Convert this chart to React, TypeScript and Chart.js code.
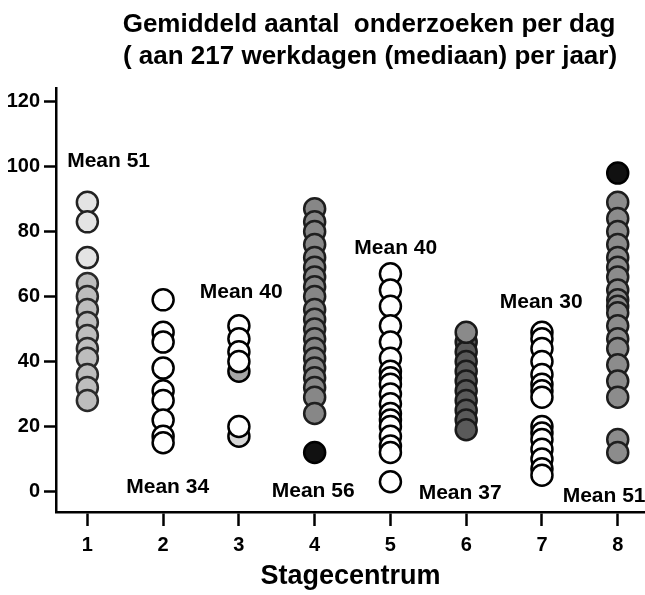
import React, { useEffect, useRef } from "react";
import { Chart, registerables } from "chart.js";

Chart.register(...registerables);

const titleLines = ["Gemiddeld aantal  onderzoeken per dag", "( aan 217 werkdagen (mediaan) per jaar)"];
const xTitle = "Stagecentrum";
const xTicks = [1, 2, 3, 4, 5, 6, 7, 8];
const yTicks = [0, 20, 40, 60, 80, 100, 120];

// values per Stagecentrum (gemiddeld aantal onderzoeken per dag)
const stage1Light = [89, 83, 72];
const stage1 = [64, 60, 56, 52, 48, 44, 41, 36, 32, 28];
const stage2 = [59, 49, 46, 38, 31, 28, 22, 17, 15];
const stage3 = [51, 47, 43, 40, 20];
const stage3Gray = [37];
const stage3Light = [17];
const stage4 = [87, 83, 80, 76, 72, 69, 66, 63, 60, 56, 53, 50, 47, 44, 41, 38, 35, 32, 29, 24];
const stage4Black = [12];
const stage5 = [67, 62, 57, 51, 46, 41, 37, 35, 33, 30, 27, 24, 22, 20, 17, 14, 12, 3];
const stage6Light = [49];
const stage6 = [46, 43, 40, 37, 34, 31, 28, 25, 22, 19];
const stage7 = [49, 47, 44, 40, 36, 33, 31, 29, 20, 18, 16, 13, 10, 7, 5];
const stage8 = [89, 84, 80, 76, 72, 69, 66, 62, 59, 57, 55, 51, 47, 44, 39, 34, 29, 16, 12];
const stage8Black = [98];

// mean annotations
const meanLabels = ["Mean 51", "Mean 34", "Mean 40", "Mean 56", "Mean 40", "Mean 37", "Mean 30", "Mean 51"];
const meanAtX = [1.28, 2.06, 3.03, 3.98, 5.07, 5.92, 6.99, 7.82];
const meanAtY = [101.7, 1.3, 61.2, 0.2, 74.9, -0.4, 58.3, -1.4];

const FONT = '"Liberation Sans", Arial, Helvetica, sans-serif';

function pts(stage: number, values: number[]) {
  return values.map((v) => ({ x: stage, y: v }));
}

function ds(stage: number, values: number[], fill: string, border: string) {
  return {
    label: "Stage " + stage,
    data: pts(stage, values),
    backgroundColor: fill,
    borderColor: border,
    borderWidth: 2.5,
    pointRadius: 10.5,
    pointHoverRadius: 10.5,
    clip: false as any,
  };
}

const annotationsPlugin = {
  id: "annotationsPlugin",
  afterDatasetsDraw(chart: any) {
    const { ctx, scales } = chart;
    const xs = scales.x;
    const ys = scales.y;
    ctx.save();
    ctx.fillStyle = "#000";
    ctx.textAlign = "center";
    ctx.textBaseline = "middle";
    ctx.font = "bold 21px " + FONT;
    meanLabels.forEach((t, i) => {
      ctx.fillText(t, xs.getPixelForValue(meanAtX[i]), ys.getPixelForValue(meanAtY[i]));
    });
    ctx.textBaseline = "alphabetic";
    ctx.font = "bold 26px " + FONT;
    ctx.fillText(titleLines[0], 369, 32);
    ctx.fillText(titleLines[1], 370, 63.5);
    ctx.restore();
  },
};

export default function App() {
  const ref = useRef<HTMLCanvasElement>(null);
  useEffect(() => {
    if (!ref.current) return;
    const chart = new Chart(ref.current, {
      type: "scatter",
      data: {
        datasets: [
          ds(1, stage1Light, "#e4e4e4", "#222"),
          ds(1, stage1, "#bdbdbd", "#2a2a2a"),
          ds(2, stage2, "#ffffff", "#000"),
          ds(3, stage3, "#ffffff", "#000"),
          ds(3, stage3Gray, "#a6a6a6", "#000"),
          ds(3, stage3Light, "#d6d6d6", "#000"),
          ds(4, stage4, "#878787", "#1e1e1e"),
          ds(4, stage4Black, "#111111", "#000"),
          ds(5, stage5, "#ffffff", "#000"),
          ds(6, stage6Light, "#8a8a8a", "#1a1a1a"),
          ds(6, stage6, "#5a5a5a", "#1a1a1a"),
          ds(7, stage7, "#ffffff", "#000"),
          ds(8, stage8, "#8c8c8c", "#1e1e1e"),
          ds(8, stage8Black, "#111111", "#000"),
        ],
      },
      options: {
        responsive: false,
        animation: false,
        devicePixelRatio: 1,
        layout: { autoPadding: false, padding: { top: 88, right: 0, left: 0, bottom: 0 } },
        plugins: {
          legend: { display: false },
          title: { display: false },
          tooltip: { enabled: false },
        },
        scales: {
          x: {
            type: "linear",
            min: 0.586,
            max: 8.36,
            afterFit: (s: any) => {
              s.height = 83;
            },
            afterBuildTicks: (s: any) => {
              s.ticks = xTicks.map((v) => ({ value: v }));
            },
            ticks: {
              color: "#000",
              font: { family: FONT, size: 20, weight: "bold" },
              padding: 7,
              autoSkip: false,
              maxRotation: 0,
              callback: (v: any) => String(v),
            },
            grid: {
              drawOnChartArea: false,
              drawTicks: true,
              tickLength: 14,
              tickColor: "#000",
              tickWidth: 2.5,
            },
            border: { display: true, color: "#000", width: 2.5 },
            title: {
              display: true,
              text: xTitle,
              color: "#000",
              font: { family: FONT, size: 27, weight: "bold" },
              padding: { top: 0, bottom: 2 },
            },
          },
          y: {
            type: "linear",
            min: -6.3,
            max: 124.2,
            afterFit: (s: any) => {
              s.width = 56;
            },
            afterBuildTicks: (s: any) => {
              s.ticks = yTicks.map((v) => ({ value: v }));
            },
            ticks: {
              color: "#000",
              font: { family: FONT, size: 20, weight: "bold" },
              padding: 4,
              callback: (v: any) => String(v),
            },
            grid: {
              drawOnChartArea: false,
              drawTicks: true,
              tickLength: 12,
              tickColor: "#000",
              tickWidth: 2.5,
            },
            border: { display: true, color: "#000", width: 2.5 },
          },
        },
      },
      plugins: [annotationsPlugin],
    });
    return () => chart.destroy();
  }, []);
  return (
    <div style={{ position: "absolute", left: 0, top: 0, width: 645, height: 595, background: "#fff" }}>
      <canvas ref={ref} width={645} height={595} />
    </div>
  );
}
